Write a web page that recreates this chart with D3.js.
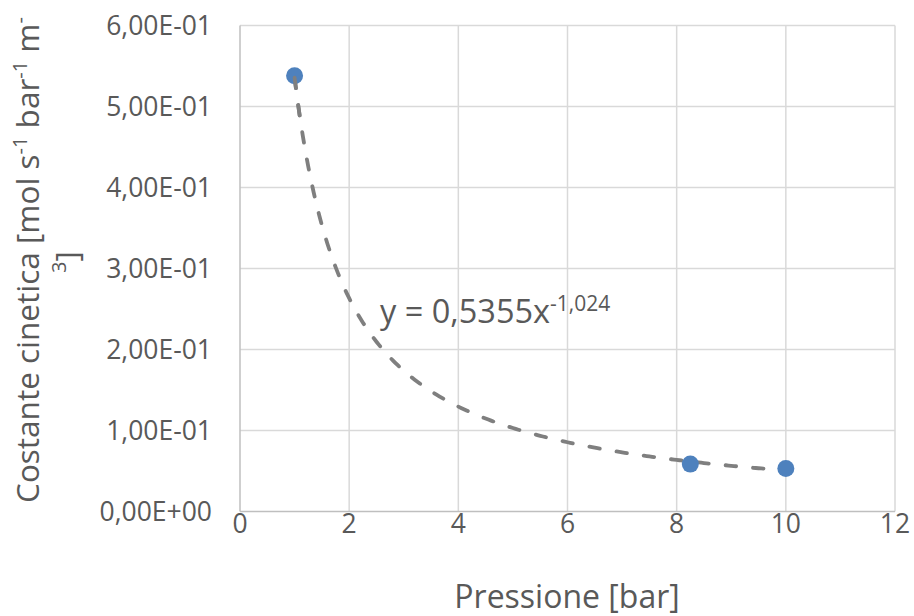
<!DOCTYPE html>
<html><head><meta charset="utf-8">
<script src="https://cdn.jsdelivr.net/npm/d3@7"></script>
<style>body{margin:0;background:#fff}</style>
</head><body>
<svg id="c" width="914" height="616"></svg>
<script>
const pressure = [1, 8.25, 10];
const rateConst = [0.538, 0.0585, 0.053];
const xTicks = [0, 2, 4, 6, 8, 10, 12];
const yTicks = [0, 0.1, 0.2, 0.3, 0.4, 0.5, 0.6];
const yTickLabels = ["0,00E+00","1,00E-01","2,00E-01","3,00E-01","4,00E-01","5,00E-01","6,00E-01"];
const fitCoef = 0.5355, fitExp = -1.024;
const fitLabel = ["y = 0,5355x", "-1,024"];

const svg = d3.select("#c");
const font = "'Open Sans', sans-serif";
const x = d3.scaleLinear().domain([0,12]).range([240,895]);
const y = d3.scaleLinear().domain([0,0.6]).range([511.5,25.5]);

// gridlines
svg.append("g").selectAll("line").data(xTicks.filter(d=>d>0)).join("line")
  .attr("x1",d=>x(d)).attr("x2",d=>x(d)).attr("y1",y(0)).attr("y2",y(0.6))
  .attr("stroke","#d9d9d9").attr("stroke-width",1.5);
svg.append("g").selectAll("line").data(yTicks.filter(d=>d>0)).join("line")
  .attr("x1",x(0)).attr("x2",x(12)).attr("y1",d=>y(d)).attr("y2",d=>y(d))
  .attr("stroke","#d9d9d9").attr("stroke-width",1.5);
// axis lines
svg.append("line").attr("x1",x(0)).attr("x2",x(12)).attr("y1",y(0)).attr("y2",y(0)).attr("stroke","#bfbfbf").attr("stroke-width",1.5);
svg.append("line").attr("x1",x(0)).attr("x2",x(0)).attr("y1",y(0)).attr("y2",y(0.6)).attr("stroke","#bfbfbf").attr("stroke-width",1.5);

// tick labels
svg.append("g").selectAll("text").data(xTicks).join("text")
  .attr("x",d=>x(d)).attr("y",533).attr("text-anchor","middle")
  .attr("font-family",font).attr("font-size",26.5).attr("fill","#595959").text(d=>d);
svg.append("g").selectAll("text").data(yTicks).join("text")
  .attr("x",212).attr("y",d=>y(d)+9.5).attr("text-anchor","end")
  .attr("font-family",font).attr("font-size",26.5).attr("fill","#595959").text((d,i)=>yTickLabels[i]);

// trendline
const xs = d3.range(1, 10.0001, 0.05);
const line = d3.line().x(d=>x(d)).y(d=>y(fitCoef*Math.pow(d,fitExp))).curve(d3.curveLinear);
const dash = {w:3.8, a:"10.5,17"};
svg.append("path").attr("d",line(xs)).attr("fill","none").attr("stroke","#7f7f7f")
  .attr("stroke-width",dash.w).attr("stroke-dasharray",dash.a).attr("stroke-linecap","round");

// points
svg.append("g").selectAll("circle").data(pressure).join("circle")
  .attr("cx",d=>x(d)).attr("cy",(d,i)=>y(rateConst[i])).attr("r",8.5).attr("fill","#4e81bd");
// trendline segment over first point, as in reference
svg.append("path").attr("d",line(xs.slice(0,3))).attr("fill","none").attr("stroke","#7f7f7f")
  .attr("stroke-width",dash.w).attr("stroke-dasharray",dash.a).attr("stroke-linecap","round");

// fit label
const ft = svg.append("text").attr("x",380).attr("y",323).attr("font-family",font)
  .attr("font-size",32.5).attr("fill","#595959");
ft.append("tspan").text(fitLabel[0]);
ft.append("tspan").attr("dy",-12).attr("font-size",21).text(fitLabel[1]);

// axis titles
svg.append("text").attr("x",567).attr("y",608).attr("text-anchor","middle")
  .attr("font-family",font).attr("font-size",32).attr("fill","#595959").text("Pressione [bar]");

const yt = svg.append("text").attr("transform","translate(39,260) rotate(-90)")
  .attr("text-anchor","middle").attr("font-family",font).attr("font-size",31.5).attr("fill","#595959");
yt.append("tspan").text("Costante cinetica [mol s");
yt.append("tspan").attr("dy",-12).attr("font-size",20).text("-1");
yt.append("tspan").attr("dy",12).text(" bar");
yt.append("tspan").attr("dy",-12).attr("font-size",20).text("-1");
yt.append("tspan").attr("dy",12).text(" m");
yt.append("tspan").attr("dy",-12).attr("font-size",20).text("-");
const yt2 = svg.append("text").attr("transform","translate(78,262) rotate(-90)")
  .attr("text-anchor","middle").attr("font-family",font).attr("font-size",31.5).attr("fill","#595959");
yt2.append("tspan").attr("dy",-12).attr("font-size",20).text("3");
yt2.append("tspan").attr("dy",12).text("]");
</script>
</body></html>
